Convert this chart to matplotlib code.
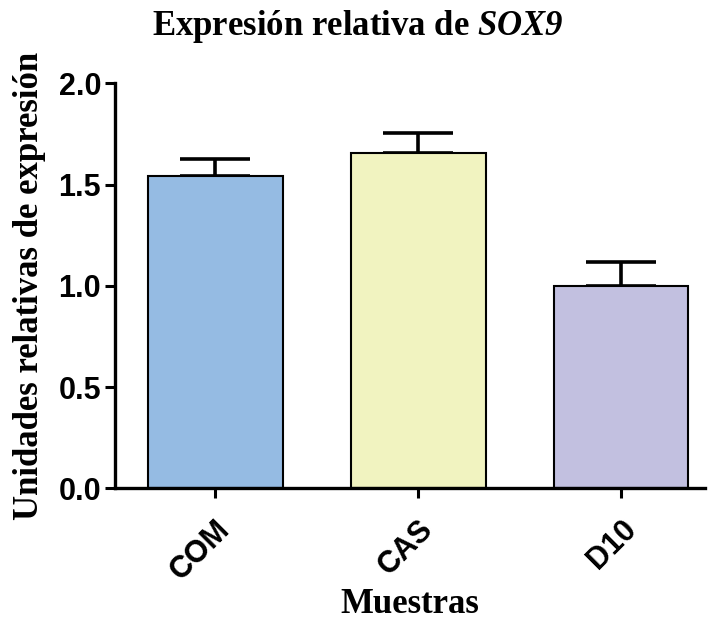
import numpy as np
import matplotlib.pyplot as plt

plt.rcParams["mathtext.fontset"] = "custom"
plt.rcParams["mathtext.rm"] = "Liberation Serif:italic:bold"

### data
muestras = ["COM", "CAS", "D10"]
expresion = [1.54, 1.655, 1.0]
error_sup = [0.085, 0.10, 0.115]
colores = ["#95bbe3", "#f1f3c0", "#c2c0e0"]

fig = plt.figure(figsize=(7.15, 6.26), dpi=100)
ax = fig.add_axes([0.161, 0.220, 0.825, 0.647])

x = np.arange(len(muestras))
ax.bar(x, expresion, width=0.665, color=colores, edgecolor="black", linewidth=1.5, zorder=2)
### only the upper half of the error bar is drawn
ax.errorbar(x, expresion, yerr=[np.zeros(len(x)), error_sup], fmt="none",
            ecolor="black", elinewidth=2.6, capsize=25, capthick=2.6, zorder=1)

ax.set_xlim(-0.493, 2.414)
ax.set_ylim(0, 2.0)
ax.set_yticks([0, 0.5, 1.0, 1.5, 2.0])
ax.set_yticklabels(["0.0", "0.5", "1.0", "1.5", "2.0"])
ax.set_xticks(x)
ax.set_xticklabels(muestras, rotation=45, ha="right", rotation_mode="anchor")

for s in ["top", "right"]:
    ax.spines[s].set_visible(False)
for s in ["left", "bottom"]:
    ax.spines[s].set_linewidth(2.4)
ax.tick_params(axis="y", width=2.2, length=7, pad=3)
ax.tick_params(axis="x", width=2.2, length=7, pad=12)
for lab in ax.get_xticklabels() + ax.get_yticklabels():
    lab.set_fontfamily("Liberation Sans")
    lab.set_fontweight("bold")
    lab.set_fontsize(22)

serif = {"family": "Liberation Serif", "weight": "bold", "size": 25}
ax.set_ylabel("Unidades relativas de expresión", fontdict=serif, labelpad=9)
ax.set_xlabel("Muestras", fontdict=serif, labelpad=1)
fig.text(0.5, 0.957, r"Expresión relativa de $\mathrm{SOX9}$", ha="center", va="center",
         fontdict=serif)

fig.savefig("out.png", dpi=100)
